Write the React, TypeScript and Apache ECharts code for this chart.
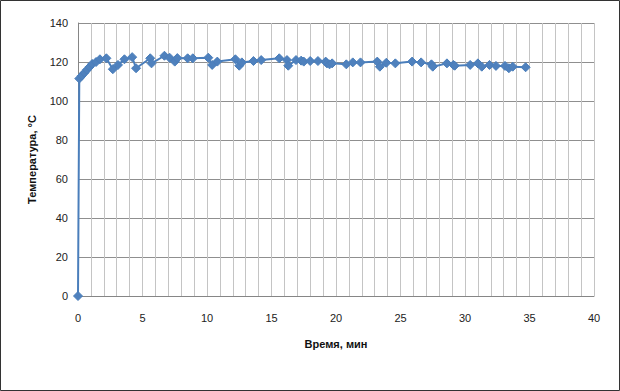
import React, { useEffect, useRef } from "react";
import * as echarts from "echarts";

const timeMin = [0, 0.1, 0.3, 0.5, 0.7, 0.9, 1.1, 1.4, 1.7, 2.2, 2.7, 3.1, 3.6, 4.2, 4.5, 5.6, 5.7, 6.7, 7.1, 7.5, 7.7, 8.5, 8.9, 10.1, 10.4, 10.8, 12.2, 12.5, 12.7, 13.6, 14.2, 15.6, 16.2, 16.3, 16.9, 17.3, 17.5, 18.0, 18.6, 19.2, 19.3, 19.5, 19.7, 20.8, 21.3, 21.9, 23.2, 23.4, 23.9, 24.6, 25.9, 26.6, 27.4, 27.5, 28.6, 29.1, 29.2, 30.4, 31.0, 31.3, 31.9, 32.4, 33.1, 33.4, 33.7, 34.7];
const temperature = [0, 111.5, 113, 114.5, 116, 117.5, 119, 120, 121.4, 121.9, 116.3, 118.5, 121.4, 122.5, 116.8, 121.9, 119.3, 123.2, 122.2, 120.2, 122, 121.9, 121.9, 122.2, 118.5, 120.2, 121.4, 118.1, 119.8, 120.5, 121, 121.9, 121, 118.1, 121, 120.7, 120.2, 120.5, 120.5, 120.2, 119.3, 118.8, 119.3, 118.8, 119.8, 119.8, 120.2, 117.6, 119.6, 119.3, 120.2, 119.8, 118.8, 117.6, 119.3, 118.5, 118.1, 118.5, 119.3, 117.6, 118.5, 118, 118, 116.8, 117.6, 117.3];

const xTickLabels = ["0", "5", "10", "15", "20", "25", "30", "35", "40"];
const yTickLabels = ["0", "20", "40", "60", "80", "100", "120", "140"];

const FONT = "Liberation Sans";

export default function App() {
  const ref = useRef<HTMLDivElement>(null);
  useEffect(() => {
    if (!ref.current) return;
    const chart = echarts.init(ref.current, undefined, { renderer: "svg" });
    const data = timeMin.map((t, i) => [t, temperature[i]]);
    chart.setOption({
      animation: false,
      backgroundColor: "#ffffff",
      graphic: [
        {
          type: "rect",
          shape: { x: 0.5, y: 0.5, width: 619, height: 390 },
          style: { fill: "none", stroke: "#333", lineWidth: 1 },
          silent: true,
        },
      ],
      grid: { left: 78, right: 26, top: 23, bottom: 95, show: false },
      xAxis: {
        type: "value",
        min: 0,
        max: 40,
        interval: 5,
        name: "Время, мин",
        nameLocation: "middle",
        nameGap: 42,
        nameTextStyle: { fontFamily: FONT, fontSize: 11, fontWeight: "bold", color: "#111" },
        axisLine: { show: true, onZero: false, lineStyle: { color: "#868686", width: 1 } },
        axisTick: { show: false },
        axisLabel: {
          fontFamily: FONT,
          fontSize: 11,
          color: "#222",
          margin: 16,
          formatter: (v: number) => {
            const s = String(v);
            return xTickLabels.includes(s) ? s : "";
          },
        },
        splitLine: { show: true, lineStyle: { color: "#c4c4c4", width: 1 } },
        minorTick: { show: false, splitNumber: 5 },
        minorSplitLine: { show: true, lineStyle: { color: "#c4c4c4", width: 1 } },
      },
      yAxis: {
        type: "value",
        min: 0,
        max: 140,
        interval: 20,
        name: "Температура, °С",
        nameLocation: "middle",
        nameGap: 41,
        nameRotate: 90,
        nameTextStyle: { fontFamily: FONT, fontSize: 11, fontWeight: "bold", color: "#111" },
        axisLine: { show: true, lineStyle: { color: "#868686", width: 1 } },
        axisTick: { show: false },
        axisLabel: {
          fontFamily: FONT,
          fontSize: 11,
          color: "#222",
          margin: 10,
          formatter: (v: number) => {
            const s = String(v);
            return yTickLabels.includes(s) ? s : "";
          },
        },
        splitLine: { show: true, lineStyle: { color: "#8f8f8f", width: 1 } },
      },
      series: [
        {
          type: "line",
          data,
          symbol: "diamond",
          symbolSize: 9,
          lineStyle: { color: "#4a7ebb", width: 2 },
          itemStyle: { color: "#4f81bd", borderColor: "#4a7ebb", borderWidth: 1 },
          z: 3,
        },
      ],
    });
    // Right border of the plot area
    return () => chart.dispose();
  }, []);
  return (
    <div
      ref={ref}
      style={{ position: "fixed", left: 0, top: 0, width: 620, height: 391 }}
    />
  );
}
